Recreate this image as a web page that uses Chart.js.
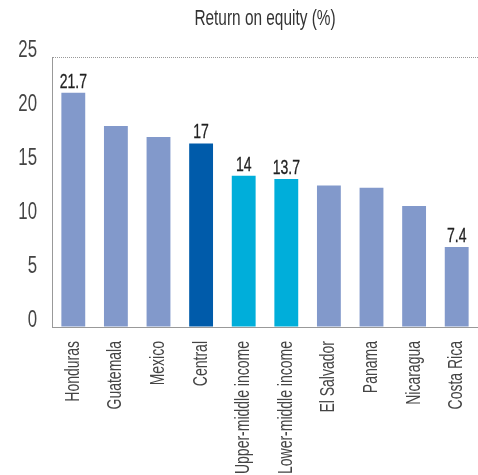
<!DOCTYPE html>
<html>
<head>
<meta charset="utf-8">
<script src="https://cdn.jsdelivr.net/npm/chart.js@4.4.1/dist/chart.umd.min.js"></script>
<style>
    html, body { margin: 0; padding: 0; background: #fff; }
    #wrap { width: 478px; height: 475px; }
</style>
</head>
<body>
<div id="wrap"><canvas id="roe"></canvas></div>
<script>
// Return on equity (%) by country / group
var categories = ['Honduras', 'Guatemala', 'Mexico', 'Central', 'Upper-middle income',
    'Lower-middle income', 'El Salvador', 'Panama', 'Nicaragua', 'Costa Rica'];
var roeValues = [21.7, 18.6, 17.6, 17, 14, 13.7, 13.1, 12.9, 11.2, 7.4];
var labelShown = [true, false, false, true, true, true, false, false, false, true];
var yTicks = [0, 5, 10, 15, 20, 25];
var chartTitle = 'Return on equity (%)';

var FONT = '"Liberation Sans", Arial, sans-serif';
var SQUEEZE = 0.7; // fake a condensed face

var barColors = categories.map(function (c) {
    if (c === 'Central') return '#005BAA';
    if (c.indexOf('middle income') > -1) return '#00AEDA';
    return '#8299CB';
});

// draw condensed text at x,y (optionally rotated, optionally a bit heavier)
function narrowText(ctx, text, x, y, align, baseline, angle, heavy) {
    ctx.save();
    ctx.translate(x, y);
    if (angle) ctx.rotate(angle);
    ctx.scale(SQUEEZE, 1);
    ctx.textAlign = align;
    ctx.textBaseline = baseline;
    ctx.fillText(text, 0, 0);
    if (heavy) {
        ctx.strokeStyle = ctx.fillStyle;
        ctx.lineWidth = 0.3;
        ctx.strokeText(text, 0, 0);
    }
    ctx.restore();
}

// title, tick labels and value labels all drawn condensed
var textLayer = {
    id: 'textLayer',
    afterDraw: function (chart) {
        var ctx = chart.ctx;
        var area = chart.chartArea;
        var xs = chart.scales.x;
        var ys = chart.scales.y;
        ctx.save();

        ctx.fillStyle = '#333';
        ctx.font = '22px ' + FONT;
        narrowText(ctx, chartTitle, (area.left + area.right) / 2, 25, 'center', 'alphabetic');

        ctx.fillStyle = '#444';
        ctx.font = '24px ' + FONT;
        yTicks.forEach(function (v) {
            narrowText(ctx, String(v), area.left - 15, ys.getPixelForValue(v), 'right', 'alphabetic');
        });

        ctx.font = '20px ' + FONT;
        categories.forEach(function (c, i) {
            narrowText(ctx, c, xs.getPixelForTick(i), area.bottom + 14, 'right', 'middle', -Math.PI / 2);
        });

        var meta = chart.getDatasetMeta(0);
        ctx.fillStyle = '#222';
        ctx.font = '20px ' + FONT;
        meta.data.forEach(function (bar, i) {
            if (!labelShown[i]) return;
            narrowText(ctx, String(roeValues[i]), bar.x, bar.y - 5, 'center', 'alphabetic', 0, true);
        });
        ctx.restore();
    }
};

new Chart(document.getElementById('roe').getContext('2d'), {
    type: 'bar',
    data: {
        labels: categories,
        datasets: [{
            data: roeValues,
            backgroundColor: barColors,
            barPercentage: 0.56,
            categoryPercentage: 1.0
        }]
    },
    options: {
        responsive: true,
        maintainAspectRatio: false,
        animation: false,
        layout: { padding: { top: 57, right: 0, bottom: 0, left: 0 } },
        plugins: {
            legend: { display: false },
            tooltip: { enabled: false }
        },
        scales: {
            x: {
                grid: { display: false, drawTicks: false },
                border: { display: true, color: '#999', width: 1, dash: [1, 1] },
                ticks: { display: false },
                afterFit: function (scale) { scale.height = 148; }
            },
            y: {
                min: 0,
                max: 25,
                afterBuildTicks: function (scale) {
                    scale.ticks = yTicks.map(function (v) { return { value: v }; });
                },
                grid: {
                    drawTicks: false,
                    color: function (c) { return c.tick && c.tick.value === 25 ? '#999' : 'rgba(0,0,0,0)'; },
                    lineWidth: 1
                },
                border: { display: true, color: '#999', width: 1, dash: [1, 1] },
                ticks: { display: false },
                afterFit: function (scale) { scale.width = 52; }
            }
        }
    },
    plugins: [textLayer]
});
</script>
</body>
</html>
